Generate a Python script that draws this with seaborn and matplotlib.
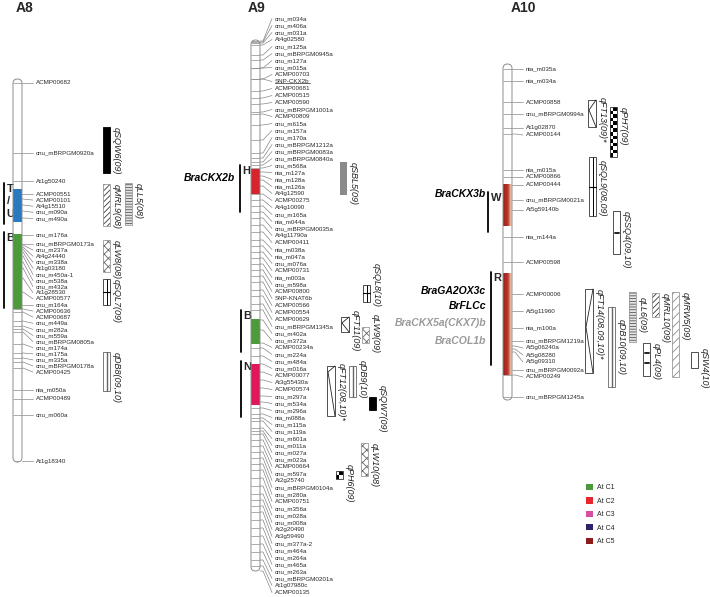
import re
import numpy as np
import matplotlib
matplotlib.use('Agg')
import matplotlib.pyplot as plt
import seaborn as sns
from matplotlib.patches import FancyBboxPatch, Rectangle, Patch
from matplotlib.colors import LinearSegmentedColormap

# ---------------- data ----------------
# marker names and map positions (cM from the top of each linkage group)
a8_markers = ['ACMP00682', 'cnu_mBRPGM0920a', 'At1g50240', 'ACMP00551', 'ACMP00101', 'At4g15510',
              'cnu_m090a', 'cnu_m490a', 'cnu_m176a', 'cnu_mBRPGM0173a', 'cnu_m237a', 'At4g24440',
              'cnu_m338a', 'At1g03180', 'cnu_m450a-1', 'cnu_m538a', 'cnu_m432a', 'At1g28530',
              'ACMP00577', 'cnu_m164a', 'ACMP00636', 'ACMP00687', 'cnu_m449a', 'cnu_m282a',
              'cnu_m559a', 'cnu_mBRPGM0805a', 'cnu_m174a', 'cnu_m175a', 'cnu_m335a',
              'cnu_mBRPGM0178a', 'ACMP00425', 'nia_m050a', 'ACMP00489', 'cnu_m060a', 'At1g18340']
a8_pos = [2, 37, 51, 57.5, 60, 63, 66, 69.5, 78, 82.5, 83, 84, 85, 86.5, 88.5, 91.5, 94.5, 99.5,
          106.5, 113, 115, 116.5, 121, 123.5, 125, 126.5, 132.5, 137, 139.5, 141.5, 144.5, 155.5,
          160, 168, 191]

a9_markers = ['cnu_m034a', 'cnu_m406a', 'cnu_m031a', 'At4g02580', 'cnu_m125a', 'cnu_mBRPGM0945a',
              'cnu_m127a', 'cnu_m015a', 'ACMP00703', 'SNP-CKX2b', 'ACMP00681', 'ACMP00515',
              'ACMP00590', 'cnu_mBRPGM1001a', 'ACMP00809', 'cnu_m615a', 'cnu_m157a', 'cnu_m170a',
              'cnu_mBRPGM1212a', 'cnu_mBRPGM0083a', 'cnu_mBRPGM0840a', 'cnu_m568a', 'nia_m127a',
              'nia_m128a', 'nia_m126a', 'At4g12590', 'ACMP00275', 'At4g10090', 'cnu_m165a',
              'nia_m044a', 'cnu_mBRPGM0035a', 'At4g11790a', 'ACMP00411', 'nia_m038a', 'nia_m047a',
              'cnu_m076a', 'ACMP00731', 'nia_m003a', 'cnu_m598a', 'ACMP00800', 'SNP-KNAT6b',
              'ACMP00566', 'ACMP00554', 'ACMP00629', 'cnu_mBRPGM1345a', 'cnu_m402a', 'cnu_m372a',
              'ACMP00234a', 'cnu_m224a', 'cnu_m484a', 'cnu_m016a', 'ACMP00077', 'At3g55430a',
              'ACMP00574', 'cnu_m297a', 'cnu_m534a', 'cnu_m296a', 'nia_m088a', 'cnu_m115a',
              'cnu_m119a', 'cnu_m601a', 'cnu_m011a', 'cnu_m027a', 'cnu_m023a', 'ACMP00664',
              'cnu_m597a', 'At2g25740', 'cnu_mBRPGM0104a', 'cnu_m280a', 'ACMP00751', 'cnu_m356a',
              'cnu_m028a', 'cnu_m008a', 'At2g20490', 'At3g59490', 'cnu_m377a-2', 'cnu_m464a',
              'cnu_m264a', 'cnu_m465a', 'cnu_m263a', 'cnu_mBRPGM0201a', 'At1g07980c', 'ACMP00135']
a9_pos = [0.5, 1, 1.5, 2.5, 7.5, 10, 14, 14, 19.5, 19.5, 25.5, 29, 32, 36, 37, 42.5, 50, 56.5, 59,
          61, 62.5, 64, 66, 68, 70, 73, 77, 80, 83, 86, 89, 92.5, 96, 100, 103, 106, 109, 112, 115,
          118, 121, 125, 128, 132, 135, 140, 145, 151.5, 154, 158, 162, 166, 170, 174, 178, 181,
          184, 187, 189, 190.5, 194, 195.5, 197, 200, 203, 206, 209, 212, 215, 219, 223, 227, 230,
          233, 236, 240, 244, 248, 252, 256, 260, 263, 265.5]

a10_markers = ['nia_m035a', 'nia_m034a', 'ACMP00858', 'cnu_mBRPGM0994a', 'At1g02870', 'ACMP00144',
               'nia_m015a', 'ACMP00866', 'ACMP00444', 'cnu_mBRPGM0021a', 'At5g59140b', 'nia_m144a',
               'ACMP00598', 'ACMP00006', 'At5g11960', 'nia_m100a', 'cnu_mBRPGM1219a', 'At5g06240a',
               'At5g08280', 'At5g09310', 'cnu_mBRPGM0092a', 'ACMP00249', 'cnu_mBRPGM1245a']
a10_pos = [2.5, 8.5, 19, 25, 32, 35, 53, 56.5, 60.5, 68, 73, 86.5, 99, 115, 123.5, 132, 138.5,
           141, 142.5, 144, 153, 155.5, 166.5]

chrom_names = ['A8', 'A9', 'A10']
chrom_length = [191.5, 265.5, 168]

# conserved Arabidopsis blocks: chromosome, block, start, end, extent of the block bar
block_chrom = ['A8', 'A8', 'A9', 'A9', 'A9', 'A10', 'A10']
block_label = ['T\n/\nU', 'B', 'H', 'B', 'N', 'W', 'R']
block_start = [55, 77.5, 64.5, 139.5, 162, 60, 104.5]
block_end = [71.5, 115, 77, 152, 182.5, 81, 155.5]
bar_start = [52, 76.5, 62.5, 135, 160.5, 64, 104]
bar_end = [72.5, 114.5, 86, 156, 188.5, 84, 150.5]

# candidate genes
gene_chrom = ['A9', 'A10', 'A10', 'A10', 'A10', 'A10']
gene_names = ['BraCKX2b', 'BraCKX3b', 'BraGA2OX3c', 'BrFLCc', 'BraCKX5a(CKX7)b', 'BraCOL1b']
gene_pos = [69, 65, 113.5, 121, 129.5, 138.5]
gene_mapped = [True, True, True, True, False, False]

# QTL intervals (cM) and LOD peaks
qtl_names = ['qSQW6(09)', 'qMRL9(08)', 'qLL5(08)', 'qLW8(08)', 'qSQL7(09)', 'qDB8(09,10)',
             'qSBL5(09)', 'qSQL8(10)', 'qFT11(09)', 'qLW9(09)', 'qFT12(08,10)*', 'qDB9(10)',
             'qSQW7(09)', 'qLW10(08)', 'qPH6(09)',
             'qFT13(09)*', 'qPH7(09)', 'qSQL9(08,09)', 'qSSQ4(09,10)', 'qFT14(08,09,10)*',
             'qDB10(09,10)', 'qLL6(09)', 'qPL4(09)', 'qMRL10(09)', 'qMRW5(09)', 'qSW4(10)']
qtl_chrom = ['A8'] * 6 + ['A9'] * 9 + ['A10'] * 11
qtl_start = [24, 52.5, 52, 80.5, 100, 136.5, 61, 122.5, 138.5, 143.5, 163, 163, 178.5, 201.5,
             215.5, 18, 21.5, 46.5, 73.5, 112.5, 121.5, 114, 139.5, 114.5, 114, 144]
qtl_end = [47, 73.5, 73, 96.5, 113, 156, 77.5, 131, 146, 151.5, 188, 178.5, 185, 218, 219.5,
           31.5, 46.5, 76, 95, 154.5, 161.5, 139, 156, 126.5, 156.5, 152]
qtl_peaks = [[], [], [], [], [106.5], [], [], [126.5], [141.5], [], [166], [], [], [], [],
             [23], [], [61.5], [84.5], [131.5], [], [], [144.5, 149.5], [], [], []]

legend_labels = ['At C1', 'At C2', 'At C3', 'At C4', 'At C5']
legend_colors = ['#4a9a3c', '#e8262e', '#d64fa2', '#2b2468', '#8c1c1c']

# ---------------- layout ----------------
PX_PER_CM = 2.0
CHR_W = 9
chrom_layout = {
    'A8': dict(x=13, top=39.5, label_x=36, bend=1, title_x=25),
    'A9': dict(x=251, top=20, label_x=275, bend=3, title_x=257),
    'A10': dict(x=503, top=32, label_x=526, bend=3, title_x=523),
}
block_bar_x = [4, 4, 240, 241, 241, 488, 491]
block_colors = ['#2a78c0', '#4c9a3c', '#d7232b', '#4c9a3c', '#e0185a', 'grad', 'grad']
gene_right = {'A9': 235, 'A10': 486}
qtl_x = {'qSQW6(09)': 103, 'qMRL9(08)': 103, 'qLL5(08)': 125, 'qLW8(08)': 103,
         'qSQL7(09)': 103, 'qDB8(09,10)': 103,
         'qSBL5(09)': 340, 'qSQL8(10)': 363, 'qFT11(09)': 341, 'qLW9(09)': 362,
         'qFT12(08,10)*': 327, 'qDB9(10)': 349, 'qSQW7(09)': 369, 'qLW10(08)': 361,
         'qPH6(09)': 336,
         'qFT13(09)*': 588, 'qPH7(09)': 610, 'qSQL9(08,09)': 589, 'qSSQ4(09,10)': 613,
         'qFT14(08,09,10)*': 585, 'qDB10(09,10)': 608, 'qLL6(09)': 629, 'qPL4(09)': 643,
         'qMRL10(09)': 652, 'qMRW5(09)': 672, 'qSW4(10)': 691}
# shift of the QTL label top relative to the box top, in px
qtl_label_dy = {'qSQL8(10)': -22, 'qFT11(09)': -7, 'qLW9(09)': -13, 'qSW4(10)': -4,
                'qPH6(09)': -7, 'qDB9(10)': -6, 'qSQW7(09)': -12, 'qDB10(09,10)': 12,
                'qLL6(09)': 5, 'qFT13(09)*': -3, 'qFT12(08,10)*': -3, 'qSQL9(08,09)': 3}

sns.set_theme(style='white')
plt.rcParams['font.family'] = ['Liberation Sans', 'DejaVu Sans']
plt.rcParams['hatch.linewidth'] = 0.6

fig = plt.figure(figsize=(7.10, 5.97), dpi=100)
ax = fig.add_axes([0, 0, 1, 1])

grad_cmap = LinearSegmentedColormap.from_list(
    'block', [(0, '#a21f1b'), (0.55, '#b8342b'), (0.8, '#dca48a'), (1, '#f3e4d4')])


def stack_greedy(pos, gap):
    out = []
    for p in pos:
        out.append(p if not out else max(p, out[-1] + gap))
    return np.array(out)


def stack_even(n, center, gap):
    return center + (np.arange(n) - (n - 1) / 2) * gap


bodies = {}
snp_text = None
marker_sets = {'A8': (a8_markers, a8_pos), 'A9': (a9_markers, a9_pos), 'A10': (a10_markers, a10_pos)}

for name, length in zip(chrom_names, chrom_length):
    lay = chrom_layout[name]
    x0, top = lay['x'], lay['top']
    names, pos = marker_sets[name]
    pos = np.array(pos)
    body = FancyBboxPatch((x0, top), CHR_W, length,
                          boxstyle='round,pad=0,rounding_size=4.5',
                          mutation_aspect=1 / PX_PER_CM, fc='white', ec='none', zorder=2)
    ax.add_patch(body)
    bodies[name] = body
    outline = FancyBboxPatch((x0, top), CHR_W, length,
                             boxstyle='round,pad=0,rounding_size=4.5',
                             mutation_aspect=1 / PX_PER_CM, fc='none', ec='#8c8c8c',
                             lw=0.7, zorder=6)
    ax.add_patch(outline)

    # marker lines across the chromosome
    hl = ax.hlines(top + pos, x0, x0 + CHR_W, color='#8a8a8a', lw=0.5, zorder=3)
    hl.set_clip_path(body)

    if name == 'A9':
        lab = stack_even(len(pos), length / 2, 3.5)
    elif name == 'A8':
        lab = stack_greedy(pos, 3.05)
    else:
        lab = stack_greedy(pos, 3.5)

    lx = lay['label_x']
    for m, p, l in zip(names, pos, lab):
        ax.plot([x0 + CHR_W, x0 + CHR_W + lay['bend'], lx - 3], [top + p, top + p, top + l],
                color='#7a7a7a', lw=0.45, zorder=3)
        t = ax.text(lx, top + l, m, fontsize=4.5, ha='left', va='center', color='#2a2a2a')
        if m == 'SNP-CKX2b':
            snp_text = t

    ax.text(lay['title_x'], 4, name, fontsize=10, fontweight='bold', ha='center', va='center')

# conserved blocks and their bars
for c, lbl, s, e, bs, be, bx, col in zip(block_chrom, block_label, block_start, block_end,
                                         bar_start, bar_end, block_bar_x, block_colors):
    lay = chrom_layout[c]
    x0, top = lay['x'], lay['top']
    if col == 'grad':
        im = ax.imshow(np.linspace(0, 1, 64)[None, :], cmap=grad_cmap, aspect='auto',
                       extent=(x0, x0 + CHR_W, top + e, top + s), interpolation='bilinear',
                       zorder=4)
        im.set_clip_path(bodies[c])
    else:
        r = Rectangle((x0, top + s), CHR_W, e - s, fc=col, ec='none', zorder=4)
        ax.add_patch(r)
        r.set_clip_path(bodies[c])
    ax.plot([bx, bx], [top + bs, top + be], color='black', lw=1.3, zorder=5)
    ax.text(bx + 2.5, top + bs + 0.5, lbl, fontsize=8, fontweight='bold', ha='left', va='top',
            linespacing=1.3)

# candidate genes
for c, g, p, ok in zip(gene_chrom, gene_names, gene_pos, gene_mapped):
    top = chrom_layout[c]['top']
    ax.text(gene_right[c], top + p, g, fontsize=7.5, fontweight='bold', style='italic',
            ha='right', va='center', color='black' if ok else '#9a9a9a')

# QTLs
for n, c, s, e, pk in zip(qtl_names, qtl_chrom, qtl_start, qtl_end, qtl_peaks):
    trait = re.match(r'q([A-Z]+)', n).group(1)
    top = chrom_layout[c]['top']
    x = qtl_x[n]
    w = 8 if trait == 'FT' else 7
    y0, h = top + s, e - s
    edge = Rectangle((x, y0), w, h, fc='none', ec='#333333', lw=0.6, zorder=8)
    if trait == 'SQW':
        ax.add_patch(Rectangle((x, y0), w, h, fc='black', ec='black', lw=0.6, zorder=7))
    elif trait == 'SBL':
        ax.add_patch(Rectangle((x, y0), w, h, fc='#8a8a8a', ec='none', zorder=7))
    elif trait in ('MRL', 'MRW', 'LL', 'LW'):
        hatch = {'MRL': '//////', 'MRW': '////', 'LL': '------', 'LW': 'xxxx'}[trait]
        hc = {'MRL': '#3a3a3a', 'MRW': '#8a8a8a', 'LL': '#555555', 'LW': '#666666'}[trait]
        fc = '#e4e4e4' if trait == 'LL' else 'white'
        ax.add_patch(Rectangle((x, y0), w, h, fc=fc, ec=hc, lw=0, hatch=hatch, zorder=7))
        edge.set_edgecolor('#9a9a9a')
        ax.add_patch(edge)
    elif trait == 'PH':
        nrow = max(2, int(round(h * PX_PER_CM / 3.5)))
        board = np.indices((nrow, 2)).sum(0) % 2
        ax.imshow(board, cmap='gray_r', aspect='auto', interpolation='nearest',
                  extent=(x, x + w, y0 + h, y0), zorder=7)
        ax.add_patch(edge)
    else:
        ax.add_patch(Rectangle((x, y0), w, h, fc='white', ec='none', zorder=7))
        if trait in ('SQL', 'DB'):
            ax.plot([x + w / 2, x + w / 2], [y0, y0 + h],
                    color='black' if trait == 'SQL' else '#666666',
                    lw=0.7 if trait == 'SQL' else 1.0, zorder=8)
            if trait == 'DB':
                edge.set_edgecolor('#666666')
        ax.add_patch(edge)
        for p in pk:
            if trait == 'FT':
                ax.plot([x + w, x + 1, x + w], [y0, top + p, y0 + h], color='#222222',
                        lw=0.6, zorder=8)
            elif trait == 'SQL':
                ax.plot([x, x + w], [top + p, top + p], color='black', lw=0.8, zorder=8)
            else:
                ax.plot([x + 1.5, x + w - 1.5], [top + p, top + p], color='#222222',
                        lw=1.4, zorder=8)
    ly = y0 + qtl_label_dy.get(n, 0) / PX_PER_CM
    ax.text(x + w + 1.5, ly, n, fontsize=6.5, style='italic', rotation=-90,
            ha='left', va='top', color='#222222', zorder=9)

# legend for the Arabidopsis chromosomes
handles = [Patch(facecolor=col, edgecolor='none', label=l)
           for l, col in zip(legend_labels, legend_colors)]
ax.legend(handles=handles, loc='upper left', bbox_to_anchor=(586 / 710, 1 - 484 / 597),
          frameon=False, fontsize=5, handlelength=1.0, handleheight=1.0, handletextpad=0.6,
          labelspacing=0.85, borderpad=0, borderaxespad=0)

ax.set_xlim(0, 710)
ax.set_ylim(597 / PX_PER_CM, 0)
ax.axis('off')

# underline the SNP marker of BraCKX2b
if snp_text is not None:
    renderer = fig.canvas.get_renderer()
    bb = snp_text.get_window_extent(renderer)
    inv = ax.transData.inverted()
    (ux0, uy0), (ux1, _) = inv.transform([[bb.x0, bb.y0 + 1], [bb.x1, bb.y0 + 1]])
    ax.plot([ux0, ux1], [uy0, uy0], color='#2a2a2a', lw=0.5)

fig.savefig('out.png', dpi=100)
